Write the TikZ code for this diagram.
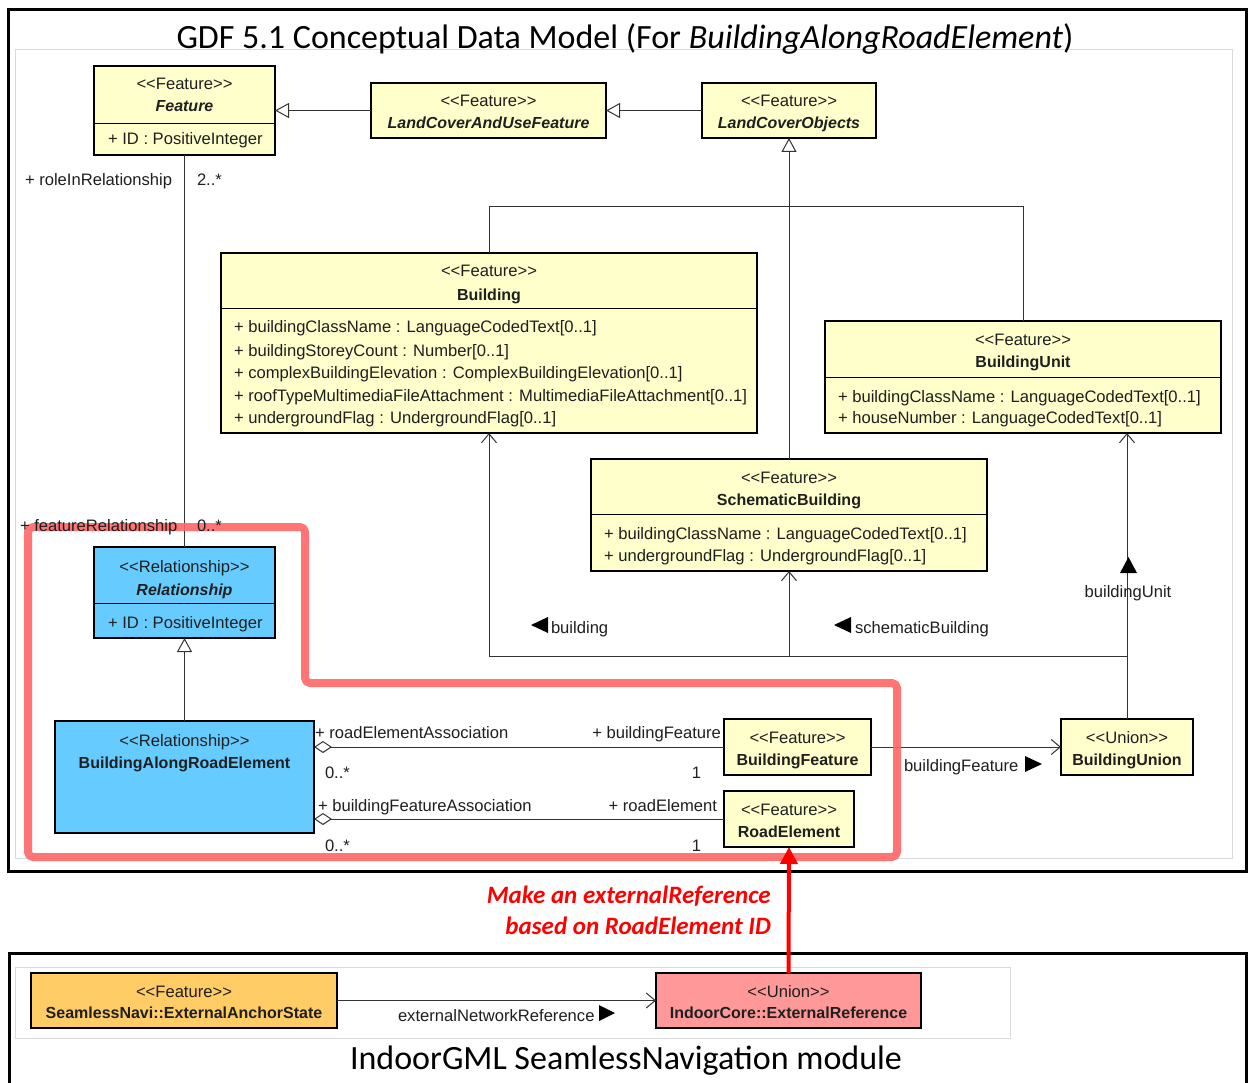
\documentclass[tikz,border=0pt]{standalone}
\usepackage{fontspec}
\setmainfont{Liberation Sans}
\newfontfamily\titlefont{Carlito}
\usetikzlibrary{arrows.meta,calc}

\definecolor{umlyellow}{HTML}{FFFFCC}
\definecolor{umlblue}{HTML}{66CCFF}
\definecolor{umlorange}{HTML}{FFCC66}
\definecolor{umlpink}{HTML}{FF9999}
\definecolor{hilitecolor}{HTML}{FF6666}
\definecolor{framegray}{HTML}{DADADA}

% stereotype brackets, kept as two separate characters
\newcommand\stereo[1]{<\kern0pt<#1>\kern0pt>}

\tikzset{
  cls/.style={draw=black, line width=2.6pt, inner sep=0pt, outer sep=0pt, anchor=north west},
  divline/.style={draw=black, line width=1pt},
  tx/.style={font=\fontsize{16.6}{18}\selectfont, text=black!88, inner sep=0pt, outer sep=0pt},
  st/.style={tx, anchor=base},
  nm/.style={tx, anchor=base, font=\fontsize{16}{18}\selectfont\bfseries},
  nmi/.style={tx, anchor=base, font=\fontsize{16}{18}\selectfont\bfseries\itshape},
  attrib/.style={tx, anchor=base west},
  lbl/.style={tx, anchor=base west},
  lblr/.style={tx, anchor=base east},
  lblc/.style={tx, anchor=base},
  conn/.style={draw=black!80, line width=1pt},
  gen/.style={conn, -{Triangle[open, length=14pt, width=15pt, fill=white]}},
  assoc/.style={conn, -{Straight Barb[length=9pt, width=15pt]}},
  aggr/.style={conn, {Diamond[open, length=18pt, width=12pt, fill=white]}-},
  redlink/.style={draw=red, line width=4pt, -{Triangle[length=17pt, width=17pt]}},
  hilite/.style={draw=hilitecolor, line width=8pt, rounded corners=5pt, line join=round, opacity=0.9},
  bigtitle/.style={font=\titlefont\fontsize{34}{40}\selectfont, inner sep=0pt, anchor=base},
  redtxt/.style={font=\titlefont\fontsize{25}{30}\selectfont\bfseries\itshape, text=red, inner sep=0pt, anchor=base east},
}

\begin{document}
\begin{tikzpicture}[x=1pt, y=-1pt]
\useasboundingbox (0,0) rectangle (1248,1083);
\fill[white] (0,0) rectangle (1248,1083);

% ---------------- frames ----------------
\begin{scope}
  \clip (0,0) rectangle (1248,1083);
  \draw[framegray, line width=1pt] (15,50) rectangle (1232,858);
  \draw[line width=3pt] (8,10) rectangle (1246,871);
  \draw[line width=3pt] (9,953) rectangle (1246,1110);
  \draw[framegray, line width=1pt] (15,967) rectangle (1010,1038);
\end{scope}

\node[bigtitle] (title) at (625,49) {GDF 5.1 Conceptual Data Model (For \textit{BuildingAlongRoadElement})};
\node[bigtitle] (moduletitle) at (626,1069) {IndoorGML SeamlessNavigation module};

% ---------------- classes ----------------
% Feature
\node[cls, fill=umlyellow, minimum width=181pt, minimum height=89pt] (feature) at (94,66) {};
\draw[divline] (feature.west |- 0,124) -- (feature.east |- 0,124);
\node[st]  at (feature.north |- 0,90) {\stereo{Feature}};
\node[nmi] at (feature.north |- 0,112) {Feature};
\node[attrib] at (108,145) {+ ID : PositiveInteger};

% LandCoverAndUseFeature
\node[cls, fill=umlyellow, minimum width=235pt, minimum height=55pt] (lcuf) at (371,83) {};
\node[st]  at (lcuf.north |- 0,107) {\stereo{Feature}};
\node[nmi] at (lcuf.north |- 0,129) {LandCoverAndUseFeature};

% LandCoverObjects
\node[cls, fill=umlyellow, minimum width=174pt, minimum height=55pt] (lco) at (702,83) {};
\node[st]  at (lco.north |- 0,107) {\stereo{Feature}};
\node[nmi] at (lco.north |- 0,129) {LandCoverObjects};

% Building
\node[cls, fill=umlyellow, minimum width=536pt, minimum height=180pt] (building) at (221,253) {};
\draw[divline] (building.west |- 0,309) -- (building.east |- 0,309);
\node[st] at (building.north |- 0,277) {\stereo{Feature}};
\node[nm] at (building.north |- 0,301) {Building};
\node[attrib] at (234,333) {+ buildingClassName : LanguageCodedText[0..1]};
\node[attrib] at (234,356) {+ buildingStoreyCount : Number[0..1]};
\node[attrib] at (234,378) {+ complexBuildingElevation : ComplexBuildingElevation[0..1]};
\node[attrib] at (234,401) {+ roofTypeMultimediaFileAttachment : MultimediaFileAttachment[0..1]};
\node[attrib] at (234,423) {+ undergroundFlag : UndergroundFlag[0..1]};

% BuildingUnit
\node[cls, fill=umlyellow, minimum width=396pt, minimum height=112pt] (bunit) at (825,321) {};
\draw[divline] (bunit.west |- 0,377) -- (bunit.east |- 0,377);
\node[st] at (bunit.north |- 0,345) {\stereo{Feature}};
\node[nm] at (bunit.north |- 0,367) {BuildingUnit};
\node[attrib] at (838,402) {+ buildingClassName : LanguageCodedText[0..1]};
\node[attrib] at (838,423) {+ houseNumber : LanguageCodedText[0..1]};

% SchematicBuilding
\node[cls, fill=umlyellow, minimum width=396pt, minimum height=112pt] (schem) at (591,459) {};
\draw[divline] (schem.west |- 0,514) -- (schem.east |- 0,514);
\node[st] at (schem.north |- 0,483) {\stereo{Feature}};
\node[nm] at (schem.north |- 0,505) {SchematicBuilding};
\node[attrib] at (604,539) {+ buildingClassName : LanguageCodedText[0..1]};
\node[attrib] at (604,561) {+ undergroundFlag : UndergroundFlag[0..1]};

% Relationship
\node[cls, fill=umlblue, minimum width=181pt, minimum height=91pt] (rel) at (94,547) {};
\draw[divline] (rel.west |- 0,603) -- (rel.east |- 0,603);
\node[st]  at (rel.north |- 0,572) {\stereo{Relationship}};
\node[nmi] at (rel.north |- 0,595) {Relationship};
\node[attrib] at (108,628) {+ ID : PositiveInteger};

% BuildingAlongRoadElement
\node[cls, fill=umlblue, minimum width=259pt, minimum height=112pt] (bare) at (55,721) {};
\node[st] at (bare.north |- 0,746) {\stereo{Relationship}};
\node[nm] at (bare.north |- 0,768) {BuildingAlongRoadElement};

% BuildingFeature
\node[cls, fill=umlyellow, minimum width=147pt, minimum height=56pt] (bfeat) at (724,719) {};
\node[st] at (bfeat.north |- 0,743) {\stereo{Feature}};
\node[nm] at (bfeat.north |- 0,765) {BuildingFeature};

% RoadElement
\node[cls, fill=umlyellow, minimum width=130pt, minimum height=56pt] (road) at (724,791) {};
\node[st] at (road.north |- 0,815) {\stereo{Feature}};
\node[nm] at (road.north |- 0,837) {RoadElement};

% BuildingUnion
\node[cls, fill=umlyellow, minimum width=132pt, minimum height=56pt] (bunion) at (1061,719) {};
\node[st] at (bunion.north |- 0,743) {\stereo{Union}};
\node[nm] at (bunion.north |- 0,765) {BuildingUnion};

% SeamlessNavi::ExternalAnchorState
\node[cls, fill=umlorange, minimum width=306pt, minimum height=55pt] (eas) at (31,973) {};
\node[st] at (eas.north |- 0,997) {\stereo{Feature}};
\node[nm] at (eas.north |- 0,1018) {SeamlessNavi::ExternalAnchorState};

% IndoorCore::ExternalReference
\node[cls, fill=umlpink, minimum width=265pt, minimum height=55pt] (eref) at (656,973) {};
\node[st] at (eref.north |- 0,997) {\stereo{Union}};
\node[nm] at (eref.north |- 0,1018) {IndoorCore::ExternalReference};

% ---------------- connectors ----------------
% generalisations
\draw[gen] (lcuf.west) -- (feature.east);
\draw[gen] (lco.west) -- (lcuf.east);
\draw[gen] (schem.north) -- (lco.south);
\draw[conn] (building.north) -- (building.north |- 0,207) -| (bunit.north);
\draw[gen] (bare.north) -- (rel.south);

% Feature -- Relationship
\draw[conn] (feature.south) -- (rel.north);
\node[lbl] at (25,186) {+ roleInRelationship};
\node[lbl] at (197,186) {2..*};

% aggregations from BuildingAlongRoadElement
\draw[aggr] (bare.east |- bfeat.west) -- (bfeat.west);
\node[lbl]  at (315,738) {+ roadElementAssociation};
\node[lblr] at (721,738) {+ buildingFeature};
\node[lbl]  at (325,778) {0..*};
\node[lblr] at (701,778) {1};

\draw[aggr] (bare.east |- road.west) -- (road.west);
\node[lbl]  at (318,811) {+ buildingFeatureAssociation};
\node[lblr] at (717,811) {+ roadElement};
\node[lbl]  at (325,851) {0..*};
\node[lblr] at (701,851) {1};

% BuildingFeature -> BuildingUnion
\draw[assoc] (bfeat.east) -- (bunion.west);
\node[lbl] (lbfeat) at (904,771) {buildingFeature};
\fill[black] (1025,756) -- (1025,772) -- (1042,764) -- cycle;

% BuildingUnion -> BuildingUnit / Building / SchematicBuilding
\coordinate (hub) at (bunion.north |- 0,656);
\draw[assoc] (bunion.north) -- (bunion.north |- bunit.south);
\draw[assoc] (hub) -| (building.south);
\draw[assoc] (schem.south |- hub) -- (schem.south);
\node[lblc] (lbunit) at (1128,597) {buildingUnit};
\fill[black] (1120,573) -- (1137,573) -- (1128.5,557) -- cycle;
\node[lbl] (lbuilding) at (551,633) {building};
\fill[black] (548,617) -- (548,633) -- (531,625) -- cycle;
\node[lbl] (lschem) at (855,633) {schematicBuilding};
\fill[black] (851,617) -- (851,633) -- (834,625) -- cycle;

% ExternalAnchorState -> ExternalReference
\draw[assoc] (eas.east) -- (eref.west);
\node[lbl] (lextnet) at (398,1021) {externalNetworkReference};
\fill[black] (599,1005) -- (599,1021) -- (615,1013) -- cycle;

% ---------------- highlight and cross-model link ----------------
\draw[hilite] (28,527) -- (305,527) -- (305,683) -- (897,683) -- (897,857) -- (28,857) -- cycle;
\node[lbl] at (20,531) {+ featureRelationship};
\node[lbl] at (197,531) {0..*};

\draw[redlink] (eref.north) -- (road.south);
\node[redtxt] (note1) at (771,903) {Make an externalReference};
\node[redtxt] (note2) at (771,934) {based on RoadElement ID};

\end{tikzpicture}
\end{document}
